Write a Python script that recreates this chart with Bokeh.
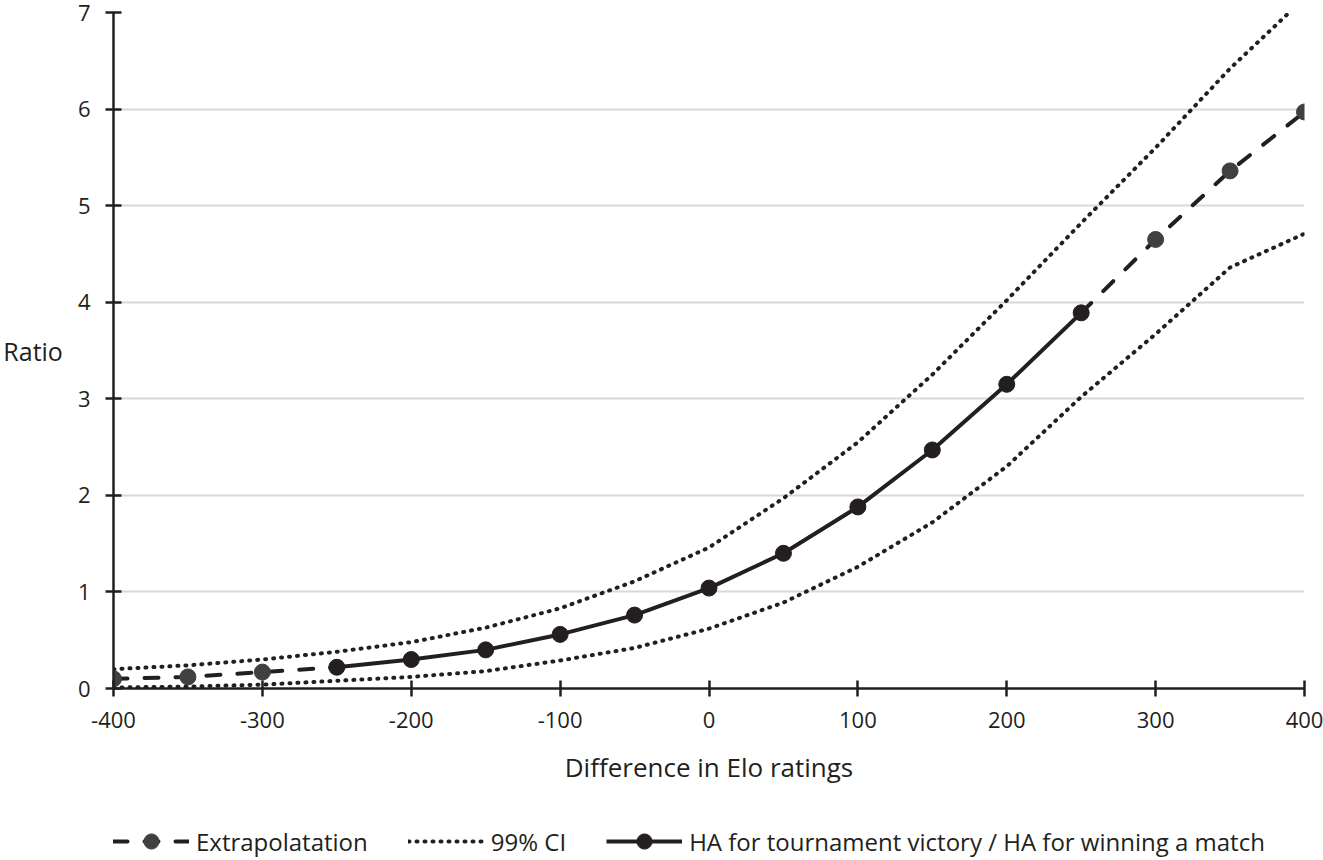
import math
from bokeh.plotting import figure
from bokeh.layouts import column
from bokeh.models import Legend, LegendItem, FixedTicker, Range1d, PrintfTickFormatter
from bokeh.embed import file_html
from bokeh.resources import INLINE

# difference in Elo ratings (x) and ratio values
main_x = [-250, -200, -150, -100, -50, 0, 50, 100, 150, 200, 250]
main_y = [0.22, 0.30, 0.40, 0.56, 0.76, 1.04, 1.40, 1.88, 2.47, 3.15, 3.89]

extrap_x = [-400, -350, -300, 300, 350, 400]
extrap_y = [0.10, 0.12, 0.17, 4.65, 5.36, 5.97]

ci_x = [-400, -350, -300, -250, -200, -150, -100, -50, 0,
        50, 100, 150, 200, 250, 300, 350, 400]
ci_upper = [0.20, 0.24, 0.30, 0.38, 0.48, 0.63, 0.83, 1.11, 1.46,
            1.97, 2.55, 3.25, 4.02, 4.82, 5.60, 6.42, 7.15]
ci_lower = [0.01, 0.02, 0.04, 0.08, 0.12, 0.18, 0.29, 0.42, 0.62,
            0.89, 1.26, 1.72, 2.30, 3.02, 3.67, 4.36, 4.71]

x_ticks = [-400, -300, -200, -100, 0, 100, 200, 300, 400]
y_ticks = [0, 1, 2, 3, 4, 5, 6, 7]

INK = "#231f20"
GREY_DOT = "#404040"
FONT = "Open Sans"
DOTTED = dict(line_color=INK, line_width=4, line_dash="1 7", line_cap="round")
DASHED = dict(line_color=INK, line_width=4, line_dash="14 17", line_cap="round")
SOLID = dict(line_color=INK, line_width=4)

# dashed extrapolation joins the outer points to the ends of the main series
dash_x = extrap_x[:3] + [main_x[0], math.nan, main_x[-1]] + extrap_x[3:]
dash_y = extrap_y[:3] + [main_y[0], math.nan, main_y[-1]] + extrap_y[3:]

p = figure(frame_width=1191, frame_height=676, output_backend="svg", toolbar_location=None, tools="",
           x_range=Range1d(-400, 400), y_range=Range1d(0, 7),
           min_border_left=113, min_border_right=19, min_border_top=12, min_border_bottom=112)
p.outline_line_color = None
p.background_fill_color = "white"
p.border_fill_color = "white"

p.xgrid.grid_line_color = None
p.ygrid.grid_line_color = "#d9d9d9"
p.ygrid.grid_line_width = 2

p.xaxis.ticker = FixedTicker(ticks=x_ticks)
p.yaxis.ticker = FixedTicker(ticks=y_ticks)
p.xaxis.formatter = PrintfTickFormatter(format="%d")
p.yaxis.formatter = PrintfTickFormatter(format="%d")
for ax in (p.xaxis, p.yaxis):
    ax.axis_line_color = INK
    ax.axis_line_width = 2.5
    ax.major_tick_line_color = INK
    ax.major_tick_line_width = 2.5
    ax.major_tick_in = 8
    ax.major_tick_out = 8
    ax.minor_tick_line_color = None
    ax.major_label_text_font = FONT
    ax.major_label_text_font_size = "22px"
    ax.major_label_text_color = INK
    ax.axis_label_text_font = FONT
    ax.axis_label_text_font_style = "normal"
    ax.axis_label_text_color = INK

p.xaxis.axis_label = "Difference in Elo ratings"
p.xaxis.axis_label_text_font_size = "26px"
p.xaxis.major_label_standoff = 15
p.xaxis.axis_label_standoff = 18
p.yaxis.axis_label = "Ratio"
p.yaxis.axis_label_text_font_size = "25px"
p.yaxis.axis_label_orientation = "horizontal"
p.yaxis.major_label_standoff = 15
p.yaxis.axis_label_standoff = 12

p.line(ci_x, ci_upper, **DOTTED)
p.line(ci_x, ci_lower, **DOTTED)
p.line(dash_x, dash_y, **DASHED)
p.line(main_x, main_y, **SOLID)
p.scatter(extrap_x, extrap_y, size=16, fill_color=GREY_DOT, line_color=GREY_DOT)
p.scatter(main_x, main_y, size=16, fill_color=INK, line_color=INK)

# legend strip under the chart: a small figure whose ranges keep the copies out of view
lg = figure(width=1323, height=60, output_backend="svg", toolbar_location=None, tools="",
            x_range=Range1d(1000, 1001), y_range=Range1d(1000, 1001),
            x_axis_location=None, y_axis_location=None, min_border=0)
lg.outline_line_color = None
lg.grid.grid_line_color = None
lg_dash = lg.line(dash_x, dash_y, **DASHED)
lg_ext = lg.scatter(extrap_x, extrap_y, fill_color=GREY_DOT, line_color=GREY_DOT)
lg_ci = lg.line(ci_x, ci_upper, **DOTTED)
lg_main = lg.line(main_x, main_y, **SOLID)
lg_pts = lg.scatter(main_x, main_y, fill_color=INK, line_color=INK)

legend = Legend(items=[
    LegendItem(label="Extrapolatation", renderers=[lg_dash, lg_ext]),
    LegendItem(label="99% CI", renderers=[lg_ci]),
    LegendItem(label="HA for tournament victory / HA for winning a match", renderers=[lg_main, lg_pts]),
], orientation="horizontal", location=(0, 0))
legend.border_line_color = None
legend.background_fill_alpha = 0
legend.label_text_font = FONT
legend.label_text_font_size = "24px"
legend.label_text_color = INK
legend.glyph_width = 76
legend.glyph_height = 38
legend.spacing = 40
legend.label_standoff = 7
legend.padding = 0
legend.margin = 0
lg.add_layout(legend)

page = column(p, lg, spacing=0)
open("out.html", "w").write(file_html(page, INLINE))
